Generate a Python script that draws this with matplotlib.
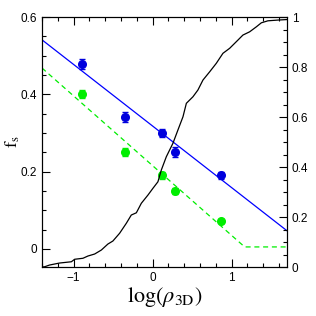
import matplotlib
matplotlib.use("Agg")
import matplotlib.pyplot as plt
from matplotlib.ticker import MultipleLocator

plt.rcParams['font.family'] = ['Liberation Sans', 'DejaVu Sans']
plt.rcParams['mathtext.fontset'] = 'stix'

# measured points (log density bin, fraction)
bin_x = [-0.90, -0.35, 0.12, 0.28, 0.87]
blue_f = [0.479, 0.341, 0.300, 0.251, 0.191]
blue_err = [0.013, 0.012, 0.011, 0.012, 0.009]
green_f = [0.401, 0.251, 0.190, 0.150, 0.072]
green_err = [0.011, 0.010, 0.008, 0.008, 0.006]

# fitted lines
blue_line_x = [-1.4, 1.7]
blue_line_y = [0.541, 0.047]
green_line_x = [-1.4, 1.165, 1.7]
green_line_y = [0.468, 0.005, 0.005]

# cumulative distribution (right axis)
cum_x = [-1.40, -1.367, -1.304, -1.177, -1.029, -0.987, -0.882, -0.819, -0.734,
         -0.649, -0.566, -0.503, -0.418, -0.333, -0.270, -0.206, -0.143, -0.059,
         0.004, 0.067, 0.110, 0.173, 0.257, 0.320, 0.384, 0.427, 0.510, 0.573,
         0.637, 0.722, 0.806, 0.890, 0.975, 1.080, 1.143, 1.228, 1.313, 1.376,
         1.459, 1.586, 1.70]
cum_y = [0.0, 0.001, 0.008, 0.016, 0.021, 0.031, 0.035, 0.044, 0.052,
         0.068, 0.092, 0.104, 0.135, 0.175, 0.208, 0.217, 0.255, 0.288,
         0.315, 0.341, 0.388, 0.441, 0.495, 0.548, 0.601, 0.655, 0.681, 0.708,
         0.748, 0.781, 0.815, 0.855, 0.875, 0.908, 0.928, 0.941, 0.961, 0.977,
         0.985, 0.988, 0.990]

fig = plt.figure(figsize=(3.16, 3.16), dpi=100)
ax = fig.add_axes([0.133, 0.155, 0.775, 0.791])
ax2 = ax.twinx()

ax.plot(blue_line_x, blue_line_y, color="#0000ff", lw=0.9)
ax.plot(green_line_x, green_line_y, color="#00ee00", lw=0.9, ls=(0, (4, 3)))
ax.errorbar(bin_x, blue_f, yerr=blue_err, fmt="o", color="#0000dd", ms=5.5,
            capsize=2.5, elinewidth=1, capthick=1)
ax.errorbar(bin_x, green_f, yerr=green_err, fmt="o", color="#00ee00", ms=5.5,
            capsize=2.5, elinewidth=1, capthick=1)
ax2.plot(cum_x, cum_y, color="black", lw=0.9)

ax.set_xlim(-1.4, 1.7)
ax.set_ylim(-0.047, 0.6)
ax2.set_ylim(0, 1)

ax.xaxis.set_major_locator(MultipleLocator(1))
ax.xaxis.set_minor_locator(MultipleLocator(0.2))
ax.yaxis.set_major_locator(MultipleLocator(0.2))
ax.yaxis.set_minor_locator(MultipleLocator(0.05))
ax2.yaxis.set_major_locator(MultipleLocator(0.2))
ax2.yaxis.set_minor_locator(MultipleLocator(0.05))
ax.set_yticks([0, 0.2, 0.4, 0.6])
ax.set_yticklabels(["0", "0.2", "0.4", "0.6"])
ax2.set_yticks([0, 0.2, 0.4, 0.6, 0.8, 1])
ax2.set_yticklabels(["0", "0.2", "0.4", "0.6", "0.8", "1"])

ax.tick_params(axis="x", which="both", direction="in", top=True, labelsize=8.5)
ax.tick_params(axis="y", which="both", direction="in", right=False, labelsize=8.5)
ax.tick_params(which="major", length=6, width=0.8)
ax.tick_params(which="minor", length=3, width=0.8)
ax2.tick_params(which="both", direction="in", labelsize=8.5)
ax2.tick_params(which="major", length=6, width=0.8)
ax2.tick_params(which="minor", length=3, width=0.8)

ax.set_xlabel(r"$\log(\rho_{\rm 3D})$", fontsize=16, labelpad=1)
ax.set_ylabel(r"$\mathrm{f_s}$", fontsize=13)
ax.yaxis.set_label_coords(-0.08, 0.5)

fig.savefig("out.png", dpi=100)
